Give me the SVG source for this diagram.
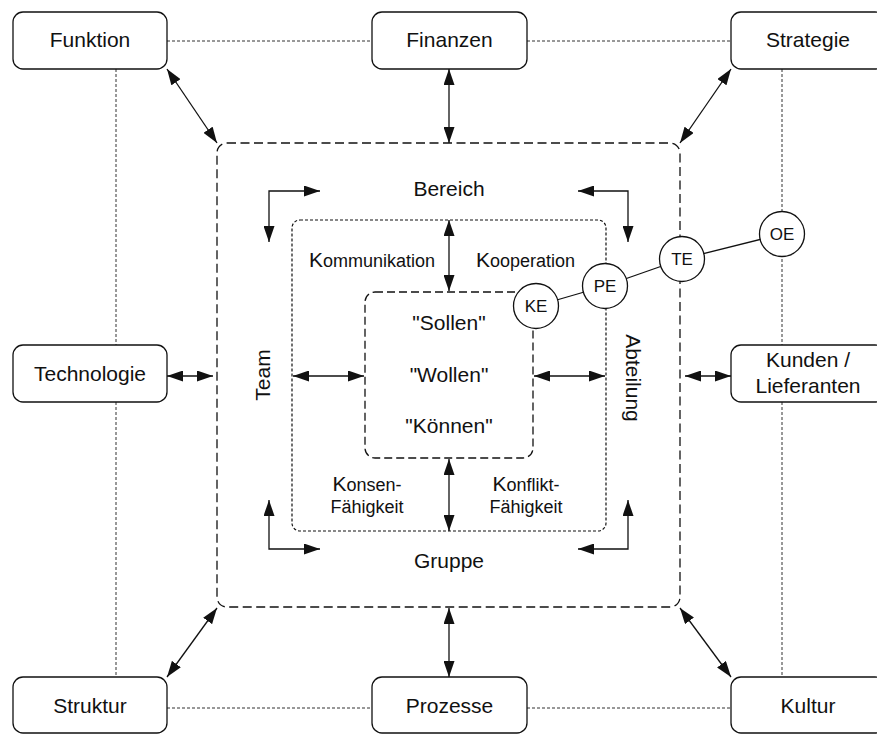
<svg xmlns="http://www.w3.org/2000/svg" width="877" height="734" viewBox="0 0 877 734">
  <style>
    .box { fill: #fff; stroke: #111; stroke-width: 1.3; }
    .lbl { font-family: "Liberation Sans", Arial, sans-serif; font-size: 21px; fill: #111; }
    .sm { font-size: 18px; }
    .cl { font-family: "Liberation Sans", Arial, sans-serif; font-size: 17px; fill: #111; }
    .dot { fill: none; stroke: #333; stroke-width: 1; stroke-dasharray: 3 2; }
    .dash { fill: none; stroke: #111; stroke-width: 1.3; stroke-dasharray: 9 4.5; }
    .dashs { fill: none; stroke: #111; stroke-width: 1.2; stroke-dasharray: 3 2; }
    .arr { fill: none; stroke: #111; stroke-width: 1.3; marker-start: url(#head); marker-end: url(#head); }
    .circ { fill: #fff; stroke: #111; stroke-width: 1.3; }
    .link { stroke: #111; stroke-width: 1.3; }
  </style>
  <defs>
    <marker id="head" markerUnits="userSpaceOnUse" markerWidth="16" markerHeight="11" refX="16" refY="5.5" orient="auto-start-reverse">
      <path d="M0,0 L16,5.5 L0,11 z" fill="#111"/>
    </marker>
  </defs>
  <rect width="877" height="734" fill="#fff"/>

  <!-- frame of dotted links between the outer factors -->
  <g id="frame">
    <line class="dot" x1="167" y1="41" x2="372" y2="41"/>
    <line class="dot" x1="527" y1="41" x2="731" y2="41"/>
    <line class="dot" x1="167" y1="708" x2="372" y2="708"/>
    <line class="dot" x1="527" y1="708" x2="731" y2="708"/>
    <line class="dot" x1="116" y1="69" x2="116" y2="345"/>
    <line class="dot" x1="116" y1="402" x2="116" y2="677"/>
    <line class="dot" x1="782" y1="69" x2="782" y2="345"/>
    <line class="dot" x1="782" y1="402" x2="782" y2="677"/>
  </g>

  <!-- nested levels -->
  <g id="bereich">
    <rect class="dash" x="217" y="143" width="463" height="464" rx="10"/>
    <text class="lbl" x="449" y="196" text-anchor="middle">Bereich</text>
    <text class="lbl" x="449" y="568" text-anchor="middle">Gruppe</text>
    <text class="lbl" transform="translate(270,375) rotate(-90)" text-anchor="middle">Team</text>
    <text class="lbl" transform="translate(626,378) rotate(90)" text-anchor="middle">Abteilung</text>
  </g>
  <g id="abteilung">
    <rect class="dashs" x="292" y="220" width="314" height="311" rx="8"/>
    <text class="lbl" x="435" y="267" text-anchor="end">K<tspan class="sm">ommunikation</tspan></text>
    <text class="lbl" x="476" y="267">K<tspan class="sm">ooperation</tspan></text>
    <text class="lbl" x="367" y="491" text-anchor="middle">K<tspan class="sm">onsen-</tspan></text>
    <text class="lbl sm" x="367" y="513" text-anchor="middle">Fähigkeit</text>
    <text class="lbl" x="526" y="491" text-anchor="middle">K<tspan class="sm">onflikt-</tspan></text>
    <text class="lbl sm" x="526" y="513" text-anchor="middle">Fähigkeit</text>
  </g>
  <g id="kern">
    <rect class="dash" x="365" y="292" width="168" height="166" rx="10" style="stroke-dasharray: 8 4"/>
    <text class="lbl" x="449" y="330" text-anchor="middle">"Sollen"</text>
    <text class="lbl" x="449" y="382" text-anchor="middle">"Wollen"</text>
    <text class="lbl" x="449" y="433" text-anchor="middle">"Können"</text>
  </g>

  <!-- arrows -->
  <g id="connectors">
    <line class="arr" x1="167" y1="69" x2="217" y2="143"/>
    <line class="arr" x1="449" y1="69" x2="449" y2="143"/>
    <line class="arr" x1="731" y1="69" x2="680" y2="143"/>
    <line class="arr" x1="167" y1="376" x2="213" y2="376"/>
    <line class="arr" x1="731" y1="376" x2="685" y2="376"/>
    <line class="arr" x1="167" y1="677" x2="217" y2="608"/>
    <line class="arr" x1="449" y1="677" x2="449" y2="608"/>
    <line class="arr" x1="731" y1="677" x2="680" y2="608"/>
    <path class="arr" d="M269,242 L269,191 L320,191"/>
    <path class="arr" d="M628,242 L628,191 L578,191"/>
    <path class="arr" d="M269,500 L269,549 L320,549"/>
    <path class="arr" d="M628,500 L628,549 L578,549"/>
    <line class="arr" x1="449" y1="220" x2="449" y2="291"/>
    <line class="arr" x1="449" y1="459" x2="449" y2="531"/>
    <line class="arr" x1="293" y1="376" x2="364" y2="376"/>
    <line class="arr" x1="534" y1="376" x2="605" y2="376"/>
    <line class="link" x1="536" y1="306" x2="605" y2="286"/>
    <line class="link" x1="605" y1="286" x2="682" y2="259"/>
    <line class="link" x1="682" y1="259" x2="782" y2="234"/>
  </g>

  <!-- outer factors -->
  <g id="funktion"><rect class="box" x="13" y="12" width="154" height="57" rx="10"/><text class="lbl" x="90" y="47" text-anchor="middle">Funktion</text></g>
  <g id="finanzen"><rect class="box" x="372" y="12" width="155" height="57" rx="10"/><text class="lbl" x="449.5" y="47" text-anchor="middle">Finanzen</text></g>
  <g id="strategie"><rect class="box" x="731" y="12" width="154" height="57" rx="10"/><text class="lbl" x="808" y="47" text-anchor="middle">Strategie</text></g>
  <g id="technologie"><rect class="box" x="13" y="345" width="154" height="57" rx="10"/><text class="lbl" x="90" y="381" text-anchor="middle">Technologie</text></g>
  <g id="kunden"><rect class="box" x="731" y="345" width="154" height="57" rx="10"/><text class="lbl" x="808" y="367" text-anchor="middle">Kunden /</text><text class="lbl" x="808" y="393" text-anchor="middle">Lieferanten</text></g>
  <g id="struktur"><rect class="box" x="13" y="677" width="154" height="56" rx="10"/><text class="lbl" x="90" y="713" text-anchor="middle">Struktur</text></g>
  <g id="prozesse"><rect class="box" x="372" y="677" width="155" height="56" rx="10"/><text class="lbl" x="449.5" y="713" text-anchor="middle">Prozesse</text></g>
  <g id="kultur"><rect class="box" x="731" y="677" width="154" height="56" rx="10"/><text class="lbl" x="808" y="713" text-anchor="middle">Kultur</text></g>

  <!-- development levels -->
  <g id="ke"><circle class="circ" cx="536" cy="306" r="22.5"/><text class="cl" x="536" y="312" text-anchor="middle">KE</text></g>
  <g id="pe"><circle class="circ" cx="605" cy="286" r="22.5"/><text class="cl" x="605" y="292" text-anchor="middle">PE</text></g>
  <g id="te"><circle class="circ" cx="682" cy="259" r="22.5"/><text class="cl" x="682" y="265" text-anchor="middle">TE</text></g>
  <g id="oe"><circle class="circ" cx="782" cy="234" r="22.5"/><text class="cl" x="782" y="240" text-anchor="middle">OE</text></g>
</svg>
